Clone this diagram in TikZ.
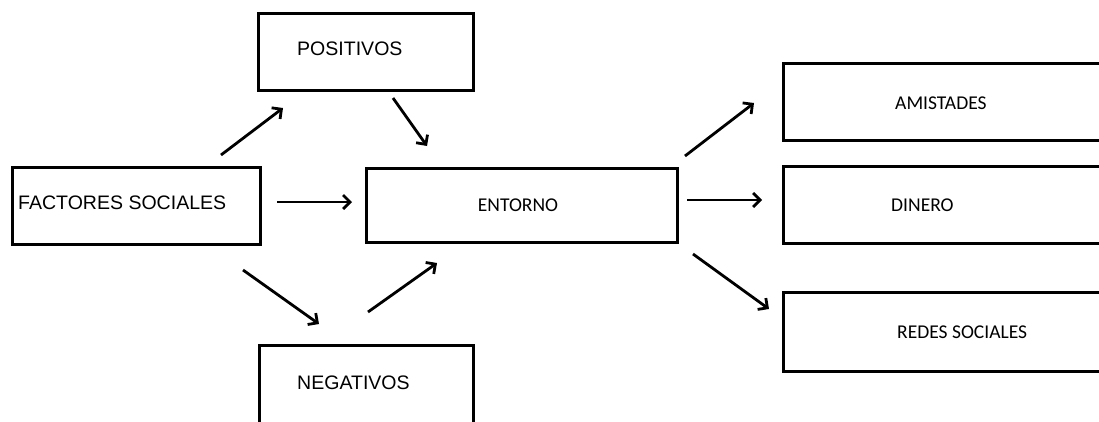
\documentclass[tikz,border=0pt]{standalone}
\usepackage{fontspec}
\setmainfont{Liberation Sans}
\newfontfamily\calib{Carlito}
\usetikzlibrary{arrows.meta}
\begin{document}
\begin{tikzpicture}[x=1bp,y=-1bp,
  box/.style={draw=black, line width=3bp, rectangle, inner sep=0pt, anchor=north west},
  openbox/.style={rectangle, inner sep=0pt, anchor=north west},
  edge/.style={draw=black, line width=3bp, line join=miter},
  lefttext/.style={font=\fontsize{19.6}{23}\selectfont, anchor=west, inner sep=0pt},
  righttext/.style={font=\calib\fontsize{19.6}{23}\selectfont, anchor=west, inner sep=0pt},
  flow/.style={line width=2.8bp, -{Straight Barb[length=7bp,width=14bp]}}]
  \useasboundingbox (0,0) rectangle (1099,421);
  \clip (0,0) rectangle (1099,421);

  % boxes
  \node[box, minimum width=248bp, minimum height=77bp] (fs) at (11,166) {};
  \node[box, minimum width=215bp, minimum height=77bp] (pos) at (257,12) {};
  \node[box, minimum width=214bp, minimum height=78bp] (neg) at (258,344) {};
  \node[box, minimum width=311bp, minimum height=74bp] (ent) at (365,167) {};
  % boxes on the right run past the edge of the page
  \node[openbox, minimum width=340bp, minimum height=77bp] (ami) at (783,63) {};
  \node[openbox, minimum width=340bp, minimum height=77bp] (din) at (783,166) {};
  \node[openbox, minimum width=340bp, minimum height=79bp] (red) at (783,292) {};
  \draw[edge] (ami.north east) -- (ami.north west) -- (ami.south west) -- (ami.south east);
  \draw[edge] (din.north east) -- (din.north west) -- (din.south west) -- (din.south east);
  \draw[edge] (red.north east) -- (red.north west) -- (red.south west) -- (red.south east);

  % labels
  \node[lefttext] (tfs) at (18,203) {FACTORES SOCIALES};
  \node[lefttext] (tpos) at (297,49) {POSITIVOS};
  \node[lefttext] (tneg) at (297,383) {NEGATIVOS};
  \node[righttext, anchor=center] (tent) at (518,205) {ENTORNO};
  \node[righttext] (tami) at (895,103) {AMISTADES};
  \node[righttext] (tdin) at (891,205) {DINERO};
  \node[righttext] (tred) at (897,332) {REDES SOCIALES};

  % arrow end points
  \coordinate (a1s) at (221,155); \coordinate (a1e) at (283,108);
  \coordinate (a2s) at (393,98);  \coordinate (a2e) at (427,146);
  \coordinate (a3s) at (277,202); \coordinate (a3e) at (352,202);
  \coordinate (a4s) at (243,270); \coordinate (a4e) at (319,324);
  \coordinate (a5s) at (368,312); \coordinate (a5e) at (437,263);
  \coordinate (a6s) at (685,156); \coordinate (a6e) at (754,103);
  \coordinate (a7s) at (687,200); \coordinate (a7e) at (762,200);
  \coordinate (a8s) at (693,254); \coordinate (a8e) at (769,309);

  % arrows
  \draw[flow] (a1s) -- (a1e);
  \draw[flow] (a2s) -- (a2e);
  \draw[flow] (a3s) -- (a3e);
  \draw[flow] (a4s) -- (a4e);
  \draw[flow] (a5s) -- (a5e);
  \draw[flow] (a6s) -- (a6e);
  \draw[flow] (a7s) -- (a7e);
  \draw[flow] (a8s) -- (a8e);
\end{tikzpicture}
\end{document}
